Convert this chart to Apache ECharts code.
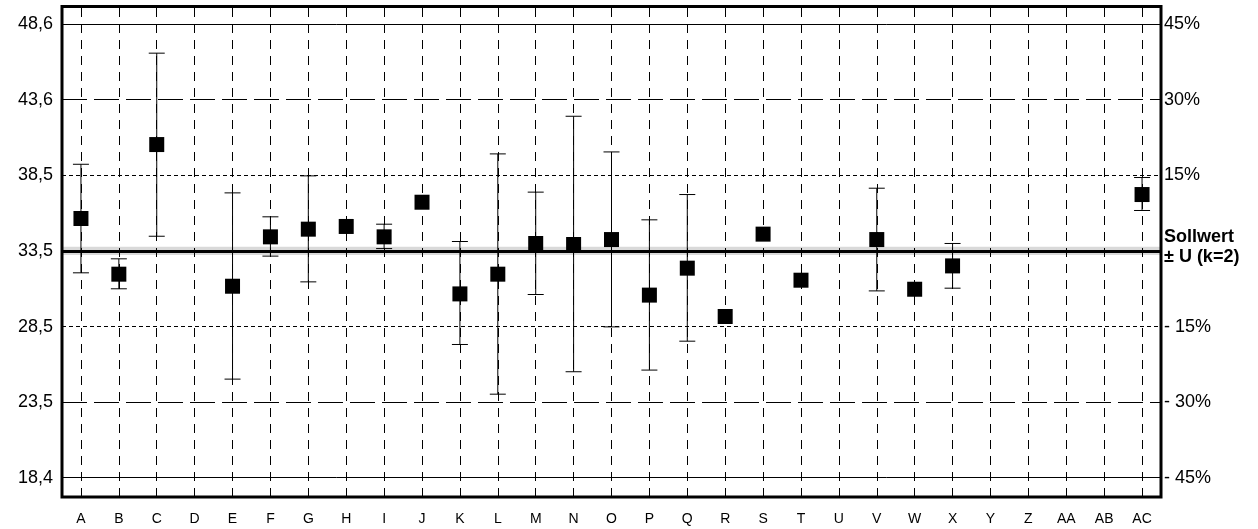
<!DOCTYPE html>
<html>
<head>
<meta charset="utf-8">
<script src="https://cdn.jsdelivr.net/npm/echarts@6/dist/echarts.min.js"></script>
<style>
html,body{margin:0;padding:0;background:#fff;}
#chart{width:1258px;height:529px;}
</style>
</head>
<body>
<div id="chart"></div>
<script>
// ---- data ----
const categories = ['A','B','C','D','E','F','G','H','I','J','K','L','M','N','O','P','Q','R','S','T','U','V','W','X','Y','Z','AA','AB','AC'];
const values = [35.65, 31.95, 40.56, null, 31.15, 34.43, 34.94, 35.12, 34.43, 36.73, 30.64, 31.95, 33.99, 33.92, 34.25, 30.56, 32.35, 29.14, 34.61, 31.55, null, 34.25, 30.95, 32.50, null, null, null, null, 37.24];
const upper  = [39.25, 32.97, 46.63, null, 37.35, 35.76, 38.48, null, 35.27, null, 34.12, 39.94, 37.40, 42.44, 40.07, 35.56, 37.24, null, null, null, null, 37.66, null, 33.99, null, null, null, null, 38.37];
const lower  = [32.04, 30.98, 34.47, null, 24.98, 33.15, 31.44, null, 33.65, null, 27.28, 23.98, 30.60, 25.47, 28.45, 25.58, 27.50, null, null, null, null, 30.84, null, 31.02, null, null, null, null, 36.18];

const sollwert = 33.5;
const uncertainty = 0.27;
const refPercents = [45, 30, 15, 0, -15, -30, -45];
const leftTickLabels = ['48,6', '43,6', '38,5', '33,5', '28,5', '23,5', '18,4'];
const rightTickLabels = ['45%', '30%', '15%', '{b|Sollwert}\n{b|± U (k=2)}', '- 15%', '- 30%', '- 45%'];

const FONT = 'Liberation Sans, Arial, Helvetica, sans-serif';

const refValues = refPercents.map(p => sollwert * (1 + p / 100));
function refStyle(p) {
  const a = Math.abs(p);
  if (a === 0) return { color: '#000', width: 3, type: 'solid' };
  if (a === 45) return { color: '#000', width: 1, type: 'solid' };
  if (a === 30) return { color: '#000', width: 1, type: [25, 7] };
  return { color: '#000', width: 1, type: [4, 3] };
}

const leftLines = refValues.map((v, i) => ({
  yAxis: v,
  lineStyle: refStyle(refPercents[i]),
  label: { show: true, position: 'start', distance: 9, formatter: leftTickLabels[i],
           color: '#000', fontSize: 18, fontFamily: FONT }
}));
const rightLines = refValues.map((v, i) => ({
  yAxis: v,
  lineStyle: { width: 1, color: 'rgba(0,0,0,0)' },
  label: { show: true, position: 'end', distance: 3, formatter: rightTickLabels[i],
           color: '#000', fontSize: 18, fontFamily: FONT, align: 'left',
           padding: refPercents[i] === 0 ? [0, 0, 8, 0] : 0,
           rich: { b: { fontWeight: 'bold', fontSize: 18, fontFamily: FONT, color: '#000', lineHeight: 20 } } }
}));
const vLines = categories.map(c => ({ xAxis: c }));

const errData = [];
categories.forEach((c, i) => {
  if (upper[i] != null && lower[i] != null) errData.push([i, lower[i], upper[i]]);
});

const chart = echarts.init(document.getElementById('chart'), null, { renderer: 'canvas' });
chart.setOption({
  animation: false,
  backgroundColor: '#fff',
  grid: { left: 62, right: 97, top: 6.5, bottom: 32, show: true, borderWidth: 3, borderColor: '#000', backgroundColor: 'transparent', z: 10 },
  xAxis: {
    type: 'category', data: categories, boundaryGap: true,
    axisLine: { show: false }, axisTick: { show: false }, splitLine: { show: false },
    axisLabel: { interval: 0, color: '#000', fontSize: 14, fontFamily: FONT, margin: 15 }
  },
  yAxis: {
    type: 'value', min: 17.15, max: 49.73,
    axisLine: { show: false }, axisTick: { show: false }, splitLine: { show: false },
    axisLabel: { show: false }
  },
  series: [
    {
      type: 'line', data: [], silent: true, z: 1,
      markArea: { silent: true, itemStyle: { color: '#d9d9d9' },
        data: [[{ yAxis: sollwert - uncertainty }, { yAxis: sollwert + uncertainty }]] }
    },
    {
      type: 'line', data: [], silent: true, z: 2,
      markLine: { silent: true, symbol: 'none', animation: false,
        label: { show: false },
        lineStyle: { color: '#000', width: 1, type: [9, 7] },
        data: vLines }
    },
    {
      type: 'line', data: [], silent: true, z: 3,
      markLine: { silent: true, symbol: 'none', animation: false, data: leftLines }
    },
    {
      type: 'line', data: [], silent: true, z: 3,
      markLine: { silent: true, symbol: 'none', animation: false, data: rightLines }
    },
    {
      type: 'custom', z: 5, silent: true,
      data: errData,
      encode: { x: 0, y: [1, 2] },
      renderItem: function (params, api) {
        const x = api.value(0);
        const top = api.coord([x, api.value(2)]);
        const bot = api.coord([x, api.value(1)]);
        const hw = 8;
        const st = { stroke: '#000', lineWidth: 1 };
        return { type: 'group', children: [
          { type: 'line', shape: { x1: top[0], y1: top[1], x2: bot[0], y2: bot[1] }, style: st },
          { type: 'line', shape: { x1: top[0] - hw, y1: top[1], x2: top[0] + hw, y2: top[1] }, style: st },
          { type: 'line', shape: { x1: bot[0] - hw, y1: bot[1], x2: bot[0] + hw, y2: bot[1] }, style: st }
        ] };
      }
    },
    {
      type: 'scatter', z: 6, silent: true,
      data: values,
      symbol: 'rect', symbolSize: 15,
      itemStyle: { color: '#000', opacity: 1 }
    }
  ]
});
</script>
</body>
</html>
